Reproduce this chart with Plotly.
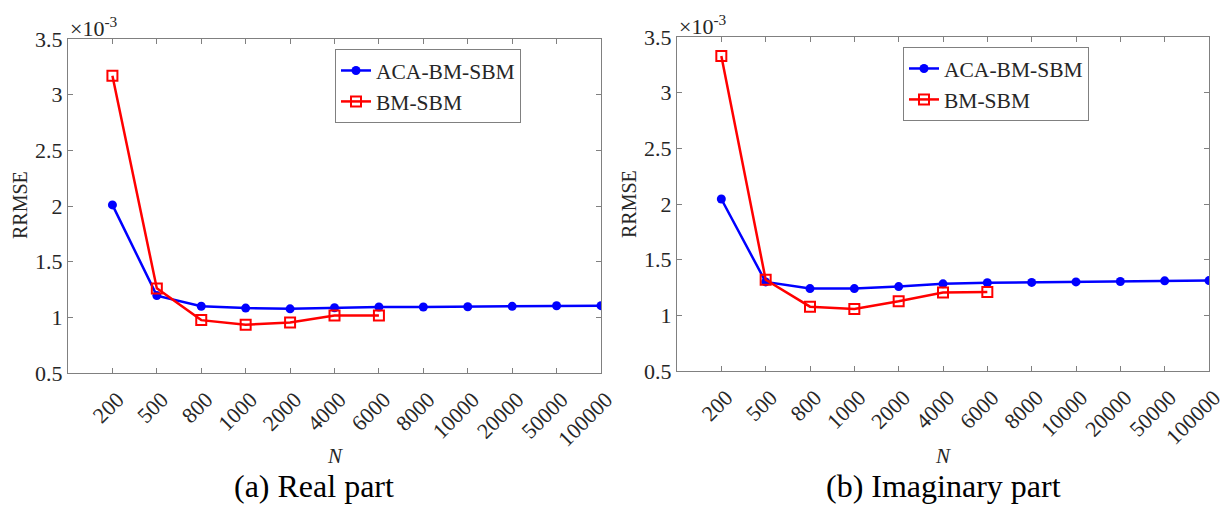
import plotly.graph_objects as go

# Sample sizes N (categorical x axis)
n_labels = ["200", "500", "800", "1000", "2000", "4000", "6000",
            "8000", "10000", "20000", "50000", "100000"]

# RRMSE values, in units of 1e-3
real_aca = [2.01, 1.195, 1.10, 1.083, 1.076, 1.086, 1.093,
            1.093, 1.095, 1.099, 1.104, 1.105]
real_bm = [3.17, 1.26, 0.975, 0.933, 0.954, 1.017, 1.017]

imag_aca = [2.045, 1.30, 1.24, 1.24, 1.258, 1.283, 1.293,
            1.296, 1.300, 1.304, 1.310, 1.312]
imag_bm = [3.33, 1.32, 1.078, 1.058, 1.126, 1.206, 1.210]

y_ticks = [0.5, 1, 1.5, 2, 2.5, 3, 3.5]
y_ticktext = ["0.5", "1", "1.5", "2", "2.5", "3", "3.5"]

W, H = 1220, 507
FONT = "Liberation Serif, Times New Roman, serif"
TXT = "#262626"
AX = "#808080"
BLUE = "#0000ff"
RED = "#ff0000"


def px(x):
    return x / W


def py(y):
    return 1 - y / H


fig = go.Figure()

panels = [
    dict(xa="x", ya="y", aca=real_aca, bm=real_bm, legend="legend"),
    dict(xa="x2", ya="y2", aca=imag_aca, bm=imag_bm, legend="legend2"),
]

for p in panels:
    fig.add_trace(go.Scatter(
        x=n_labels, y=p["aca"], name="ACA-BM-SBM", mode="lines+markers",
        line=dict(color=BLUE, width=2.5),
        marker=dict(symbol="circle", size=9, color=BLUE),
        xaxis=p["xa"], yaxis=p["ya"], legend=p["legend"]))
    fig.add_trace(go.Scatter(
        x=n_labels[:len(p["bm"])], y=p["bm"], name="BM-SBM",
        mode="lines+markers",
        line=dict(color=RED, width=2.5),
        marker=dict(symbol="square-open", size=10, color=RED,
                    line=dict(width=2, color=RED)),
        xaxis=p["xa"], yaxis=p["ya"], legend=p["legend"]))

xaxis_common = dict(
    type="category", categoryorder="array", categoryarray=n_labels,
    range=[-1, 11], showgrid=False, zeroline=False, automargin=False,
    showline=True, linecolor=AX, linewidth=1, mirror="ticks",
    ticks="inside", ticklen=5, tickcolor=AX, tickwidth=1,
    tickangle=-45, ticklabelstandoff=4, ticklabelshift=5,
    tickfont=dict(family=FONT, size=22, color=TXT),
)
yaxis_common = dict(
    range=[0.5, 3.5], tickvals=y_ticks, ticktext=y_ticktext,
    showgrid=False, zeroline=False, automargin=False,
    showline=True, linecolor=AX, linewidth=1, mirror="ticks",
    ticks="inside", ticklen=5, tickcolor=AX, tickwidth=1,
    tickfont=dict(family=FONT, size=22, color=TXT),
)

legend_common = dict(
    font=dict(family=FONT, size=21.5, color=TXT),
    bgcolor="white", bordercolor=AX, borderwidth=1,
    xanchor="left", yanchor="top", tracegroupgap=0,
)

fig.update_layout(
    width=W, height=H, autosize=False,
    margin=dict(l=0, r=0, t=0, b=0, autoexpand=False),
    paper_bgcolor="white", plot_bgcolor="white",
    font=dict(family=FONT, color=TXT),
    xaxis=dict(domain=[px(68), px(601)], anchor="y", **xaxis_common),
    yaxis=dict(domain=[py(373), py(39)], anchor="x", **yaxis_common),
    xaxis2=dict(domain=[px(677), px(1209)], anchor="y2", **xaxis_common),
    yaxis2=dict(domain=[py(371), py(37)], anchor="x2", **yaxis_common),
    legend=dict(x=px(335), y=py(49), **legend_common),
    legend2=dict(x=px(903), y=py(47), **legend_common),
    showlegend=True,
)

annotations = []
for left, top, xcenter, cap_x, caption in [
        (68, 39, 335, 314, "(a) Real part"),
        (677, 37, 943, 943, "(b) Imaginary part")]:
    annotations.append(dict(
        x=px(left), y=py(top + 4), xref="paper", yref="paper",
        xanchor="left", yanchor="bottom", showarrow=False,
        text="×10<sup>-3</sup>", font=dict(family=FONT, size=22, color=TXT)))
    annotations.append(dict(
        x=px(left - 48), y=py((top + 373) / 2 - 1), xref="paper",
        yref="paper", xanchor="center", yanchor="middle", showarrow=False,
        textangle=-90, text="RRMSE",
        font=dict(family=FONT, size=20, color=TXT)))
    annotations.append(dict(
        x=px(xcenter), y=py(456), xref="paper", yref="paper",
        xanchor="center", yanchor="middle", showarrow=False,
        text="<i>N</i>", font=dict(family=FONT, size=21, color=TXT)))
    annotations.append(dict(
        x=px(cap_x), y=py(486), xref="paper", yref="paper",
        xanchor="center", yanchor="middle", showarrow=False,
        text=caption, font=dict(family=FONT, size=32, color="black")))

fig.update_layout(annotations=annotations)

fig.write_html("out.html")
